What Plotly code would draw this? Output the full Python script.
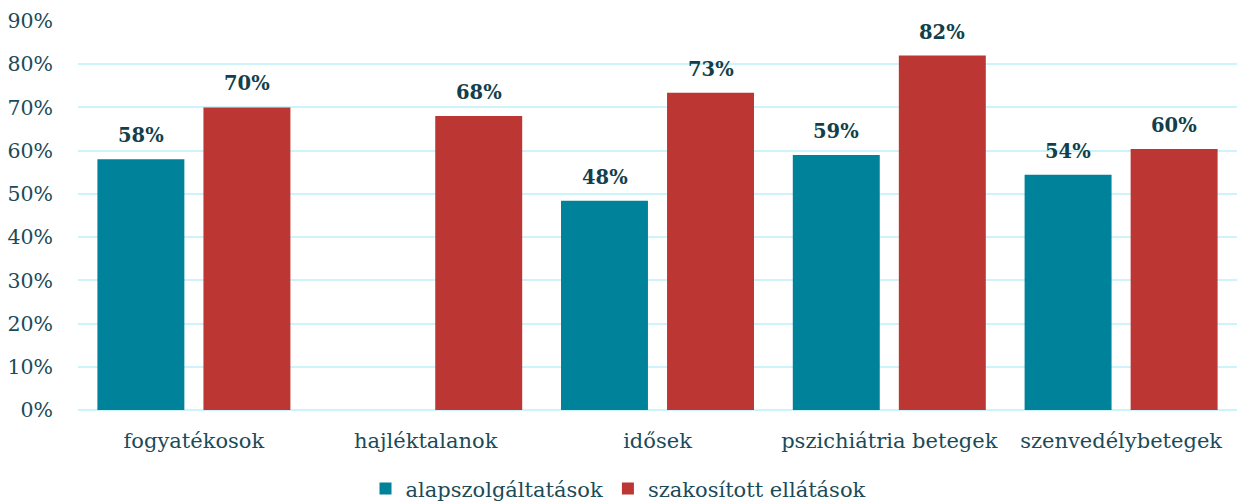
import plotly.graph_objects as go

categories = ["fogyatékosok", "hajléktalanok", "idősek", "pszichiátria betegek", "szenvedélybetegek"]
series_names = ["alapszolgáltatások", "szakosított ellátások"]
alap = [0.58, None, 0.484, 0.59, 0.544]
szak = [0.70, 0.68, 0.734, 0.82, 0.604]
y_ticks = [0, 0.1, 0.2, 0.3, 0.4, 0.5, 0.6, 0.7, 0.8, 0.9]

FONT = "DejaVu Serif, serif"
TXT = "#1B4B58"
LBL = "#123F4B"
TEAL = "#00829A"
RED = "#BC3634"

fig = go.Figure()
fig.add_trace(go.Bar(name=series_names[0], x=categories, y=alap,
                     marker=dict(color=TEAL, line=dict(width=0))))
fig.add_trace(go.Bar(name=series_names[1], x=categories, y=szak,
                     marker=dict(color=RED, line=dict(width=0))))

annotations = []
for vals, shift in ((alap, -53), (szak, 53)):
    for c, v in zip(categories, vals):
        if v is None:
            continue
        annotations.append(dict(x=c, y=v, xref="x", yref="y", text=f"{v:.0%}",
                                showarrow=False, yanchor="bottom", xshift=shift, yshift=10,
                                font=dict(family=FONT, size=19.5, color=LBL, weight="bold")))

fig.update_layout(
    width=1237, height=504,
    margin=dict(l=78, r=0, t=21, b=94),
    paper_bgcolor="white", plot_bgcolor="white",
    barmode="group", bargap=0.085, bargroupgap=0.18,
    font=dict(family=FONT, size=21, color=TXT),
    annotations=annotations,
    legend=dict(orientation="h", x=0.5, xanchor="center", xref="container",
                y=0.03, yanchor="middle", yref="container",
                font=dict(family=FONT, size=21, color=TXT), itemwidth=30,
                traceorder="normal"),
    xaxis=dict(showgrid=False, showline=False, ticks="", automargin=False,
               ticklabelstandoff=16,
               tickfont=dict(family=FONT, size=21, color=TXT)),
    yaxis=dict(range=[0, 0.9], tickvals=y_ticks, tickformat=".0%", automargin=False,
               showgrid=True, gridcolor="#CDF4FA", gridwidth=2,
               zeroline=True, zerolinecolor="#CDF4FA", zerolinewidth=2,
               showline=False, ticks="", ticklabelstandoff=24,
               tickfont=dict(family=FONT, size=20.5, color=TXT)),
)

fig.write_html("out.html", config={"displayModeBar": False},
               post_script="document.body.style.margin='0';document.body.style.overflow='hidden';")
